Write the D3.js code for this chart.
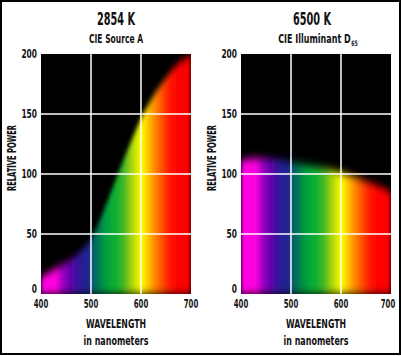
<!DOCTYPE html>
<html><head><meta charset="utf-8">
<script src="https://cdn.jsdelivr.net/npm/d3@7"></script>
<style>
body{margin:0;background:#fff;}
text{font-family:"DejaVu Sans",sans-serif;font-stretch:condensed;fill:#111;}
</style></head>
<body><svg id="c" width="401" height="356"></svg>
<script>
const wavelengths = [400, 425, 450, 475, 500, 525, 550, 575, 600, 625, 650, 675, 700];
const sourceA = [14, 20, 26, 34, 46, 69, 96, 122, 146, 165, 180, 192, 199];
const d65 = [111, 113, 113, 112, 110, 108, 106, 104, 101, 98, 94, 90, 85];
const xTicks = [400, 500, 600, 700];
const yTicks = [0, 50, 100, 150, 200];
const specWl = [400, 405, 430, 440, 455, 470, 485, 498, 502, 515, 530, 550, 565, 575, 585, 595, 600, 610, 620, 630, 640, 650, 665, 690, 700];
const specCol = ["#a000b0","#ff00e0","#ff00e0","#b000c8","#7000b0","#4010a0","#202090","#202090","#006070","#007850","#00a040","#10b030","#40b828","#80c818","#b8dc08","#e8f000","#ffff00","#ffd800","#ffa800","#ff8000","#ff5800","#ff3000","#ff0800","#ff0000","#d00000"];
const titles = ["2854 K", "6500 K"];
const subtitles = ["CIE Source A", "CIE Illuminant D"];
const subSub = ["", "65"];
const series = [sourceA, d65];

const svg = d3.select("#c");
svg.append("rect").attr("x",1).attr("y",1).attr("width",399).attr("height",353)
  .attr("fill","#fff").attr("stroke","#000").attr("stroke-width",2);
const defs = svg.append("defs");

function txt(g, s, x, y, size, len, anchor, weight) {
  return g.append("text").attr("x", x).attr("y", y).attr("text-anchor", anchor || "middle")
    .attr("font-size", size).attr("font-weight", weight || "bold")
    .attr("textLength", len).attr("lengthAdjust", "spacingAndGlyphs").text(s);
}

const panels = [{x0:41, x1:191, tcx:116, scx:116}, {x0:241, x1:391, tcx:312, scx:318}];
const yTop = 54, yBot = 294;

panels.forEach((p, i) => {
  const x = d3.scaleLinear().domain([400,700]).range([p.x0, p.x1]);
  const y = d3.scaleLinear().domain([0,200]).range([yBot, yTop]);
  const g = svg.append("g");

  const grad = defs.append("linearGradient").attr("id","spec"+i)
    .attr("gradientUnits","userSpaceOnUse")
    .attr("x1", x(400)).attr("x2", x(700)).attr("y1",0).attr("y2",0);
  specWl.forEach((w,k)=>grad.append("stop").attr("offset",(w-400)/300).attr("stop-color",specCol[k]));
  const filt = defs.append("filter").attr("id","blur"+i)
    .attr("filterUnits","userSpaceOnUse")
    .attr("x", x(400)-20).attr("y", yTop-20).attr("width", x(700)-x(400)+40).attr("height", yBot-yTop+40);
  filt.append("feGaussianBlur").attr("stdDeviation","1.6 4");
  defs.append("clipPath").attr("id","clip"+i).append("rect")
    .attr("x", x(400)).attr("y", yTop).attr("width", x(700)-x(400)).attr("height", yBot-yTop);

  const plot = g.append("g").attr("clip-path","url(#clip"+i+")");
  plot.append("rect").attr("x", x(400)).attr("y", yTop).attr("width", x(700)-x(400)).attr("height", yBot-yTop).attr("fill","#000");
  const area = d3.area().curve(d3.curveMonotoneX)
    .x((d,k)=>x(wavelengths[k])).y0(y(0)).y1(d=>y(d));
  plot.append("path").datum(series[i]).attr("d", area)
    .attr("fill","url(#spec"+i+")").attr("filter","url(#blur"+i+")");

  [500,600].forEach(w=>g.append("line").attr("x1",x(w)).attr("x2",x(w)).attr("y1",yTop).attr("y2",yBot)
    .attr("stroke","#fff").attr("stroke-width",1.5));
  [50,100,150].forEach(v=>g.append("line").attr("x1",x(400)).attr("x2",x(700)).attr("y1",y(v)).attr("y2",y(v))
    .attr("stroke","#fff").attr("stroke-width",1.5));

  yTicks.forEach(v=>{ const s=String(v); txt(g, s, x(400)-4, Math.min(y(v)+4, y(0)-1), 11.5, s.length*5.2, "end"); });
  xTicks.forEach(w=>{ const s=String(w); txt(g, s, Math.min(x(w), 388), 308, 11.5, s.length*4.8, "middle"); });

  txt(g, titles[i], p.tcx, 25, 17, 38);
  // subtitle as one text element (subscript in a tspan), compressed horizontally
  const st = g.append("text").attr("text-anchor","middle").attr("font-size",13).attr("font-weight","bold");
  st.append("tspan").text(subtitles[i]);
  if (subSub[i]) st.append("tspan").attr("font-size",7.5).attr("dy",3).attr("dx",1).text(subSub[i]);
  const natW = st.node().getComputedTextLength() || 1;
  const targetW = i ? 79 : 54;
  st.attr("transform", `translate(${p.scx},43) scale(${targetW / natW},1)`);

  txt(g, "WAVELENGTH", p.scx - (i ? 2 : 0), 328, 12.5, 60);
  txt(g, "in nanometers", p.scx - (i ? 2 : 0), 345, 12.5, 65);
  g.append("text").attr("transform",`translate(${x(400)-25},158) rotate(-90)`).attr("text-anchor","middle")
    .attr("font-size",12).attr("font-weight","bold")
    .attr("textLength",66).attr("lengthAdjust","spacingAndGlyphs").text("RELATIVE POWER");
});
</script></body></html>
